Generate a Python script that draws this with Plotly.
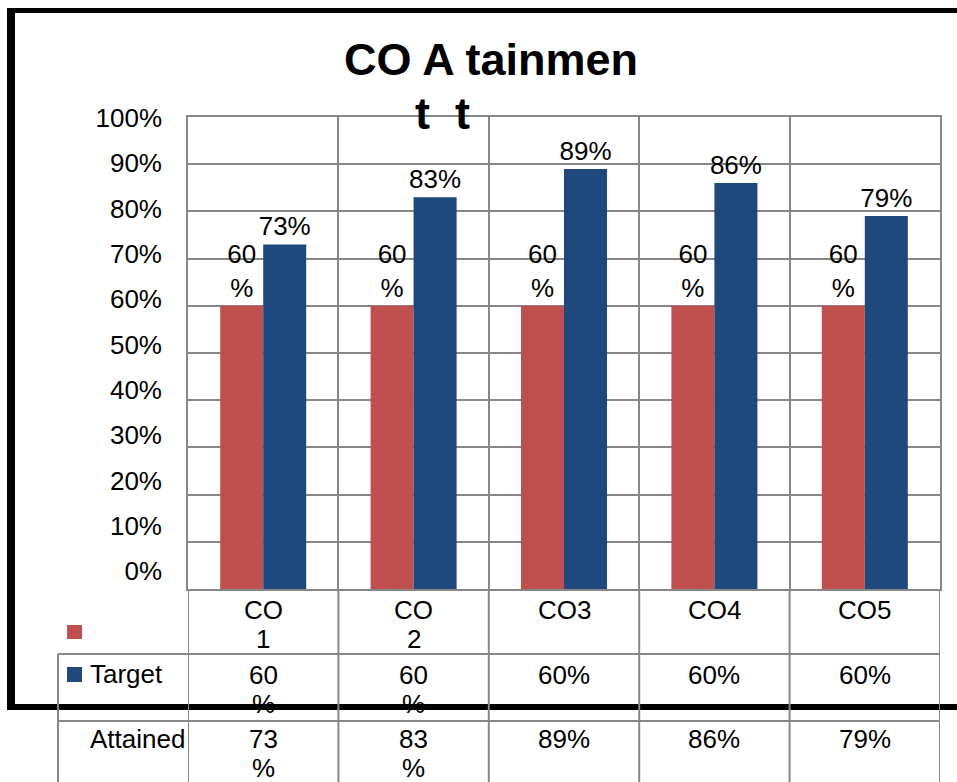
import plotly.graph_objects as go

# ---- data -------------------------------------------------------------
categories = ["CO1", "CO2", "CO3", "CO4", "CO5"]
target = [60, 60, 60, 60, 60]          # %
attained = [73, 83, 89, 86, 79]        # %
y_ticks = [0, 10, 20, 30, 40, 50, 60, 70, 80, 90, 100]
y_tick_labels = [f"{v}%" for v in y_ticks]
wrapped_cols = ["CO1", "CO2"]          # cells whose text wraps onto two lines

# ---- styling ----------------------------------------------------------
RED = "#C0504D"
BLUE = "#1F497D"
GRID = "#878787"
FONT = "Liberation Sans, Arial, sans-serif"
W, H = 957, 782
L, R, T, B = 188, 940, 117, 589      # plot area in pixels
LINE_PITCH = 29                       # wrapped cell text line pitch, px


def px(x):
    return (x - L) / (R - L)


def py(y):
    return (B - y) / (B - T)


fig = go.Figure()

fig.add_trace(go.Bar(
    x=categories, y=target, name="Target",
    marker=dict(color=RED, line=dict(width=0)),
    texttemplate="%{y}<br>%", textposition="outside",
    textfont=dict(size=26, color="black", family=FONT),
    constraintext="none", cliponaxis=False,
))
fig.add_trace(go.Bar(
    x=categories, y=attained, name="Attained",
    marker=dict(color=BLUE, line=dict(width=0)),
    texttemplate="%{y}%", textposition="outside",
    textfont=dict(size=26, color="black", family=FONT),
    constraintext="none", cliponaxis=False,
))
# empty trace so the labelled percentage axis is rendered
fig.add_trace(go.Scatter(x=[None], y=[None], yaxis="y2", mode="markers",
                         showlegend=False, hoverinfo="skip"))

shapes = []
# outer frame
shapes.append(dict(type="line", xref="paper", yref="paper",
                   x0=px(10), x1=px(960), y0=py(10.5), y1=py(10.5),
                   line=dict(color="black", width=5)))
shapes.append(dict(type="line", xref="paper", yref="paper",
                   x0=px(11), x1=px(11), y0=py(8), y1=py(710),
                   line=dict(color="black", width=8)))
shapes.append(dict(type="line", xref="paper", yref="paper",
                   x0=px(7), x1=px(960), y0=py(707), y1=py(707),
                   line=dict(color="black", width=6)))

# data table grid
gl = dict(color=GRID, width=2)
for yy in (654, 721):
    shapes.append(dict(type="line", xref="paper", yref="paper",
                       x0=px(58), x1=1, y0=py(yy), y1=py(yy), line=gl))
shapes.append(dict(type="line", xref="paper", yref="paper",
                   x0=px(58), x1=px(58), y0=py(654), y1=py(790), line=gl))
for i in range(len(categories) + 1):
    shapes.append(dict(type="line", xref="x", yref="paper",
                       x0=i - 0.5, x1=i - 0.5, y0=0, y1=py(790), line=gl))

# legend keys inside the table
shapes.append(dict(type="rect", xref="paper", yref="paper",
                   x0=px(67), x1=px(82), y0=py(625), y1=py(639),
                   fillcolor=RED, line=dict(width=0)))
shapes.append(dict(type="rect", xref="paper", yref="paper",
                   x0=px(67), x1=px(82), y0=py(667), y1=py(682),
                   fillcolor=BLUE, line=dict(width=0)))

annotations = []
cell_font = dict(size=26, color="black", family=FONT)


def add_cell(col, top, lines):
    for k, line in enumerate(lines):
        annotations.append(dict(x=col, xref="x",
                                y=py(top + 15 + k * LINE_PITCH), yref="paper",
                                text=line, showarrow=False, yanchor="middle",
                                font=cell_font))


def value_lines(value, col):
    return [f"{value}", "%"] if col in wrapped_cols else [f"{value}%"]


for col, t_val, a_val in zip(categories, target, attained):
    header = [col[:-1], col[-1]] if col in wrapped_cols else [col]
    add_cell(col, 595, header)
    add_cell(col, 660, value_lines(t_val, col))
    add_cell(col, 724, value_lines(a_val, col))

annotations.append(dict(x=px(88), xref="paper", y=py(674), yref="paper",
                        text="Target", showarrow=False, xanchor="left",
                        yanchor="middle", font=cell_font))
annotations.append(dict(x=px(187), xref="paper", y=py(739), yref="paper",
                        text="Attained", showarrow=False, xanchor="right",
                        yanchor="middle", font=cell_font))

# second line of the wrapped title
annotations.append(dict(x=px(442), xref="paper", y=py(114), yref="paper",
                        text="t\u00a0\u00a0t", showarrow=False,
                        yanchor="middle",
                        font=dict(size=45, color="black", family=FONT,
                                  weight="bold")))

fig.update_layout(
    width=W, height=H,
    margin=dict(l=L, r=W - R, t=T, b=H - B, pad=0),
    paper_bgcolor="white", plot_bgcolor="white",
    barmode="group", bargap=0.428, bargroupgap=0,
    showlegend=False,
    title=dict(text="CO A tainmen", x=491 / W, xanchor="center",
               y=1 - 59 / H, yanchor="middle", xref="container",
               yref="container",
               font=dict(size=45, color="black", family=FONT, weight="bold")),
    xaxis=dict(type="category", tickson="boundaries", showticklabels=False,
               ticks="", showgrid=True, gridcolor=GRID, gridwidth=2,
               showline=True, linecolor=GRID, linewidth=2, mirror=True,
               zeroline=False, range=[-0.5, 4.5]),
    yaxis=dict(range=[0, 100], tickvals=y_ticks, showticklabels=False,
               showgrid=True, gridcolor=GRID, gridwidth=2, zeroline=False,
               showline=True, linecolor=GRID, linewidth=2, mirror=True),
    yaxis2=dict(overlaying="y", side="left", range=[-3.97, 100.22],
                tickmode="array", tickvals=y_ticks, ticktext=y_tick_labels,
                showgrid=False, zeroline=False, showline=False, ticks="",
                ticklabelstandoff=25,
                tickfont=dict(size=26, color="black", family=FONT)),
    shapes=shapes,
    annotations=annotations,
    font=dict(family=FONT, color="black"),
)

fig.write_html("out.html")
